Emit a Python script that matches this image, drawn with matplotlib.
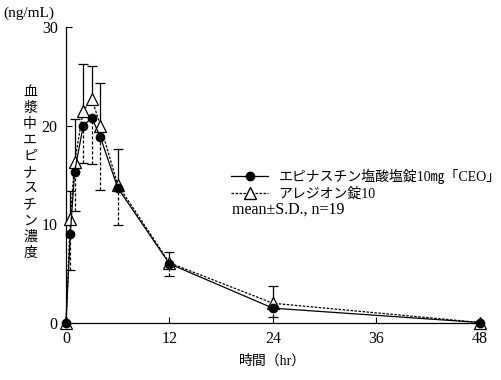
import matplotlib
matplotlib.use("Agg")
import matplotlib.pyplot as plt
from matplotlib.lines import Line2D
import numpy as np

plt.rcParams["font.family"] = ["Liberation Serif", "Noto Sans CJK JP"]

# time points (hr)
hours = [0, 0.5, 1, 2, 3, 4, 6, 12, 24, 48]

# エピナスチン塩酸塩錠10mg「CEO」 (closed circles), SD drawn downward
ceo_mean = [0, 9.0, 15.3, 20.0, 20.8, 18.8, 13.7, 6.0, 1.5, 0.05]
ceo_sd = [0, 3.6, 3.9, 3.8, 4.7, 5.3, 3.8, 1.2, 0.9, 0]

# アレジオン錠10 (open triangles), SD drawn upward
ref_mean = [0, 10.5, 16.3, 21.5, 22.7, 20.0, 14.0, 6.1, 2.0, 0.05]
ref_sd = [0, 2.9, 4.4, 4.7, 3.3, 4.3, 3.6, 1.1, 1.8, 0]

x_ticks = [0, 12, 24, 36, 48]
y_ticks = [0, 10, 20, 30]


def main():
    fig = plt.figure(figsize=(5.01, 3.80), dpi=100)
    ax = fig.add_axes([0.1317, 0.15, 0.8263, 0.779])

    t = np.array(hours)
    cm, cs = np.array(ceo_mean), np.array(ceo_sd)
    rm, rs = np.array(ref_mean), np.array(ref_sd)

    # error bars: reference upward (solid), CEO downward (dashed)
    up = rs > 0
    ax.vlines(t[up], rm[up], rm[up] + rs[up], color="black", lw=0.9, zorder=2)
    ax.plot(t[up], rm[up] + rs[up], ls="none", marker="_", ms=7,
            mew=0.9, color="black", zorder=2)
    dn = cs > 0
    ax.vlines(t[dn], cm[dn] - cs[dn], cm[dn], color="black", lw=0.9,
              linestyles=(0, (2.5, 1.5)), zorder=2)
    ax.plot(t[dn], cm[dn] - cs[dn], ls="none", marker="_", ms=7,
            mew=0.9, color="black", zorder=2)

    ax.plot(t, rm, color="black", lw=0.9, ls=(0, (2, 1.2)), marker="^",
            ms=8, mfc="white", mec="black", mew=0.9, clip_on=False, zorder=3)
    ax.plot(t, cm, color="black", lw=0.9, marker="o", ms=6,
            mfc="black", mec="black", clip_on=False, zorder=4)

    ax.set_xlim(0, 48)
    ax.set_ylim(0, 30)
    ax.set_xticks(x_ticks)
    ax.set_yticks(y_ticks)
    ax.tick_params(direction="in", length=4, width=0.8, labelsize=11.5,
                   pad=6)
    for side in ["top", "right"]:
        ax.spines[side].set_visible(False)
    for side in ["left", "bottom"]:
        ax.spines[side].set_linewidth(0.9)

    ax.set_xlabel("時間（hr）", fontsize=10, labelpad=5)
    fig.text(0.006, 0.965, "(ng/mL)", fontsize=11, ha="left", va="center")
    fig.text(0.06, 0.545, "\n".join("血漿中エピナスチン濃度"), fontsize=10,
             ha="center", va="center", linespacing=1.3)

    handles = [
        Line2D([], [], color="black", lw=0.9, marker="o", ms=6),
        Line2D([], [], color="black", lw=0.9, ls=(0, (2, 1.2)), marker="^",
               ms=8, mfc="white"),
    ]
    labels = ["エピナスチン塩酸塩錠10㎎「CEO」", "アレジオン錠10"]
    ax.legend(handles, labels, loc="upper left",
              bbox_to_anchor=(0.462, 0.555), bbox_transform=fig.transFigure,
              frameon=False, fontsize=10, handlelength=2.6,
              handletextpad=0.8, labelspacing=0.2, borderpad=0,
              borderaxespad=0)
    fig.text(0.463, 0.447, "mean\u00b1S.D., n=19", fontsize=11.5,
             ha="left", va="center")

    fig.savefig("out.png", dpi=100)
    plt.close(fig)


if __name__ == "__main__":
    main()
